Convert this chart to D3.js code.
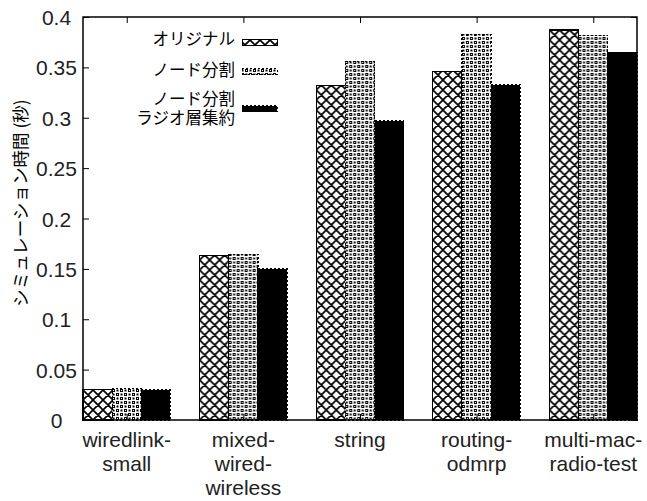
<!DOCTYPE html>
<html>
<head>
<meta charset="utf-8">
<script src="https://cdn.jsdelivr.net/npm/d3@7"></script>
<style>
  html, body { margin: 0; padding: 0; background: #fff; }
  svg { display: block; }
  .lat { font-family: "Liberation Sans", Arial, sans-serif; }
  .jp { font-family: "Noto Sans CJK JP", sans-serif; }
</style>
</head>
<body>
<svg id="chart" width="647" height="501"></svg>
<script>
// ---- data ----
const categories = ["wiredlink-\nsmall", "mixed-\nwired-\nwireless", "string", "routing-\nodmrp", "multi-mac-\nradio-test"];
const seriesNames = ["オリジナル", "ノード分割", "ノード分割\nラジオ層集約"];
const original   = [0.030, 0.163, 0.332, 0.346, 0.387];
const nodeSplit  = [0.031, 0.1645, 0.356, 0.383, 0.382];
const radioMerge = [0.030, 0.150, 0.297, 0.333, 0.365];
const yTicks = [0, 0.05, 0.1, 0.15, 0.2, 0.25, 0.3, 0.35, 0.4];
const yTitle = "シミュレーション時間 (秒)";

const seriesValues = [original, nodeSplit, radioMerge];

// ---- layout ----
const svg = d3.select("#chart");
const L = 83, R = 637, T = 17, B = 420;

const defs = svg.append("defs");
// crosshatch
const p1 = defs.append("pattern").attr("id", "pat0").attr("patternUnits", "userSpaceOnUse")
  .attr("width", 10).attr("height", 10);
p1.append("rect").attr("width", 10).attr("height", 10).attr("fill", "#fff");
p1.append("path").attr("d", "M0,0 L10,10 M10,0 L0,10 M-1,9 L1,11 M9,-1 L11,1 M-1,1 L1,-1 M9,11 L11,9")
  .attr("stroke", "#000").attr("stroke-width", 1.7);
// dotted rings
const p2 = defs.append("pattern").attr("id", "pat1").attr("patternUnits", "userSpaceOnUse")
  .attr("width", 8).attr("height", 8);
p2.append("rect").attr("width", 8).attr("height", 8).attr("fill", "#fff");
p2.append("rect").attr("x", 1).attr("y", 1).attr("width", 3).attr("height", 3).attr("fill", "#000");
p2.append("rect").attr("x", 2).attr("y", 2).attr("width", 1).attr("height", 1).attr("fill", "#fff");
p2.append("rect").attr("x", 5).attr("y", 5).attr("width", 3).attr("height", 3).attr("fill", "#000");
p2.append("rect").attr("x", 6).attr("y", 6).attr("width", 1).attr("height", 1).attr("fill", "#fff");
p2.append("rect").attr("x", 5.5).attr("y", 1.5).attr("width", 2).attr("height", 2).attr("fill", "#000");
p2.append("rect").attr("x", 1.5).attr("y", 5.5).attr("width", 2).attr("height", 2).attr("fill", "#000");

const fills = ["url(#pat0)", "url(#pat1)", "#000"];
const dashes = [null, "2,2", "2,2"];

const x0 = d3.scaleBand().domain(categories).range([L, R]).paddingInner(0.25).paddingOuter(0);
const x1 = d3.scaleBand().domain(d3.range(seriesValues.length)).range([0, x0.bandwidth()]).padding(0);
const y = d3.scaleLinear().domain([0, 0.4]).range([B, T]);

// bars
const groups = svg.append("g").selectAll("g").data(categories).join("g")
  .attr("transform", d => `translate(${x0(d)},0)`);
groups.each(function(cat, ci) {
  const g = d3.select(this);
  seriesValues.forEach((vals, si) => {
    g.append("rect")
      .attr("x", x1(si))
      .attr("y", y(vals[ci]))
      .attr("width", x1.bandwidth())
      .attr("height", y(0) - y(vals[ci]))
      .attr("fill", fills[si])
      .attr("stroke", "#000")
      .attr("stroke-width", 1.2)
      .attr("stroke-dasharray", dashes[si])
      .attr("shape-rendering", "crispEdges");
  });
});

// axes (ticks inward)
const yAxisL = d3.axisLeft(y).tickValues(yTicks).tickSizeInner(-6).tickSizeOuter(0)
  .tickFormat(d => String(+d.toFixed(2)));
const gL = svg.append("g").attr("transform", `translate(${L},0)`).call(yAxisL);
gL.select(".domain").remove();
gL.selectAll("line").attr("stroke", "#000").attr("stroke-width", 1);
gL.selectAll("text")
  .attr("class", "lat")
  .attr("font-size", 21)
  .attr("fill", "#222")
  .attr("text-anchor", "middle")
  .attr("x", 56.5 - L)
  .attr("dy", "0.36em");

const yAxisR = d3.axisRight(y).tickValues(yTicks).tickSizeInner(-6).tickSizeOuter(0).tickFormat("");
const gR = svg.append("g").attr("transform", `translate(${R},0)`).call(yAxisR);
gR.select(".domain").remove();
gR.selectAll("line").attr("stroke", "#000");

const xCenters = d3.scalePoint().domain(categories)
  .range([x0(categories[0]) + x0.bandwidth() / 2, x0(categories[categories.length - 1]) + x0.bandwidth() / 2]);
const xAxisB = d3.axisBottom(xCenters).tickSizeInner(-6).tickSizeOuter(0).tickFormat("");
const gB = svg.append("g").attr("transform", `translate(0,${B})`).call(xAxisB);
gB.select(".domain").remove();
gB.selectAll("line").attr("stroke", "#000");
const xAxisT = d3.axisTop(xCenters).tickSizeInner(-6).tickSizeOuter(0).tickFormat("");
const gT = svg.append("g").attr("transform", `translate(0,${T})`).call(xAxisT);
gT.select(".domain").remove();
gT.selectAll("line").attr("stroke", "#000");

// frame
svg.append("rect").attr("x", L).attr("y", T).attr("width", R - L).attr("height", B - T)
  .attr("fill", "none").attr("stroke", "#000").attr("stroke-width", 1.5);

// x category labels
categories.forEach(cat => {
  const lines = cat.split("\n");
  const t = svg.append("text").attr("class", "lat").attr("font-size", 21).attr("fill", "#222")
    .attr("text-anchor", "middle");
  lines.forEach((ln, i) => {
    t.append("tspan").attr("x", xCenters(cat)).attr("y", 447 + i * 24).text(ln);
  });
});

// y title
svg.append("text").attr("class", "jp").attr("font-size", 17.5).attr("fill", "#000")
  .attr("text-anchor", "middle")
  .attr("transform", "translate(21,203) rotate(-90)")
  .attr("dy", "0.35em")
  .text(yTitle);

// legend
const legTextX = 235, sampX = 242, sampW = 35;
const legRows = [
  { lines: [39.5], samp: 42 },
  { lines: [70.5], samp: 71.5 },
  { lines: [99.5], samp: 108.7 }
];
seriesNames.forEach((name, i) => {
  const parts = name.split("\n");
  const t = svg.append("text").attr("class", "jp").attr("font-size", 16.5).attr("fill", "#000")
    .attr("text-anchor", "end");
  parts.forEach((p, j) => {
    t.append("tspan").attr("x", legTextX).attr("y", legRows[i].lines[0] + j * 18.8)
      .attr("dy", "0.36em").text(p);
  });
  svg.append("rect").attr("x", sampX).attr("y", legRows[i].samp - 3).attr("width", sampW).attr("height", 6)
    .attr("fill", fills[i]).attr("stroke", "#000").attr("stroke-width", 1)
    .attr("stroke-dasharray", dashes[i]).attr("shape-rendering", "crispEdges");
});
</script>
</body>
</html>
